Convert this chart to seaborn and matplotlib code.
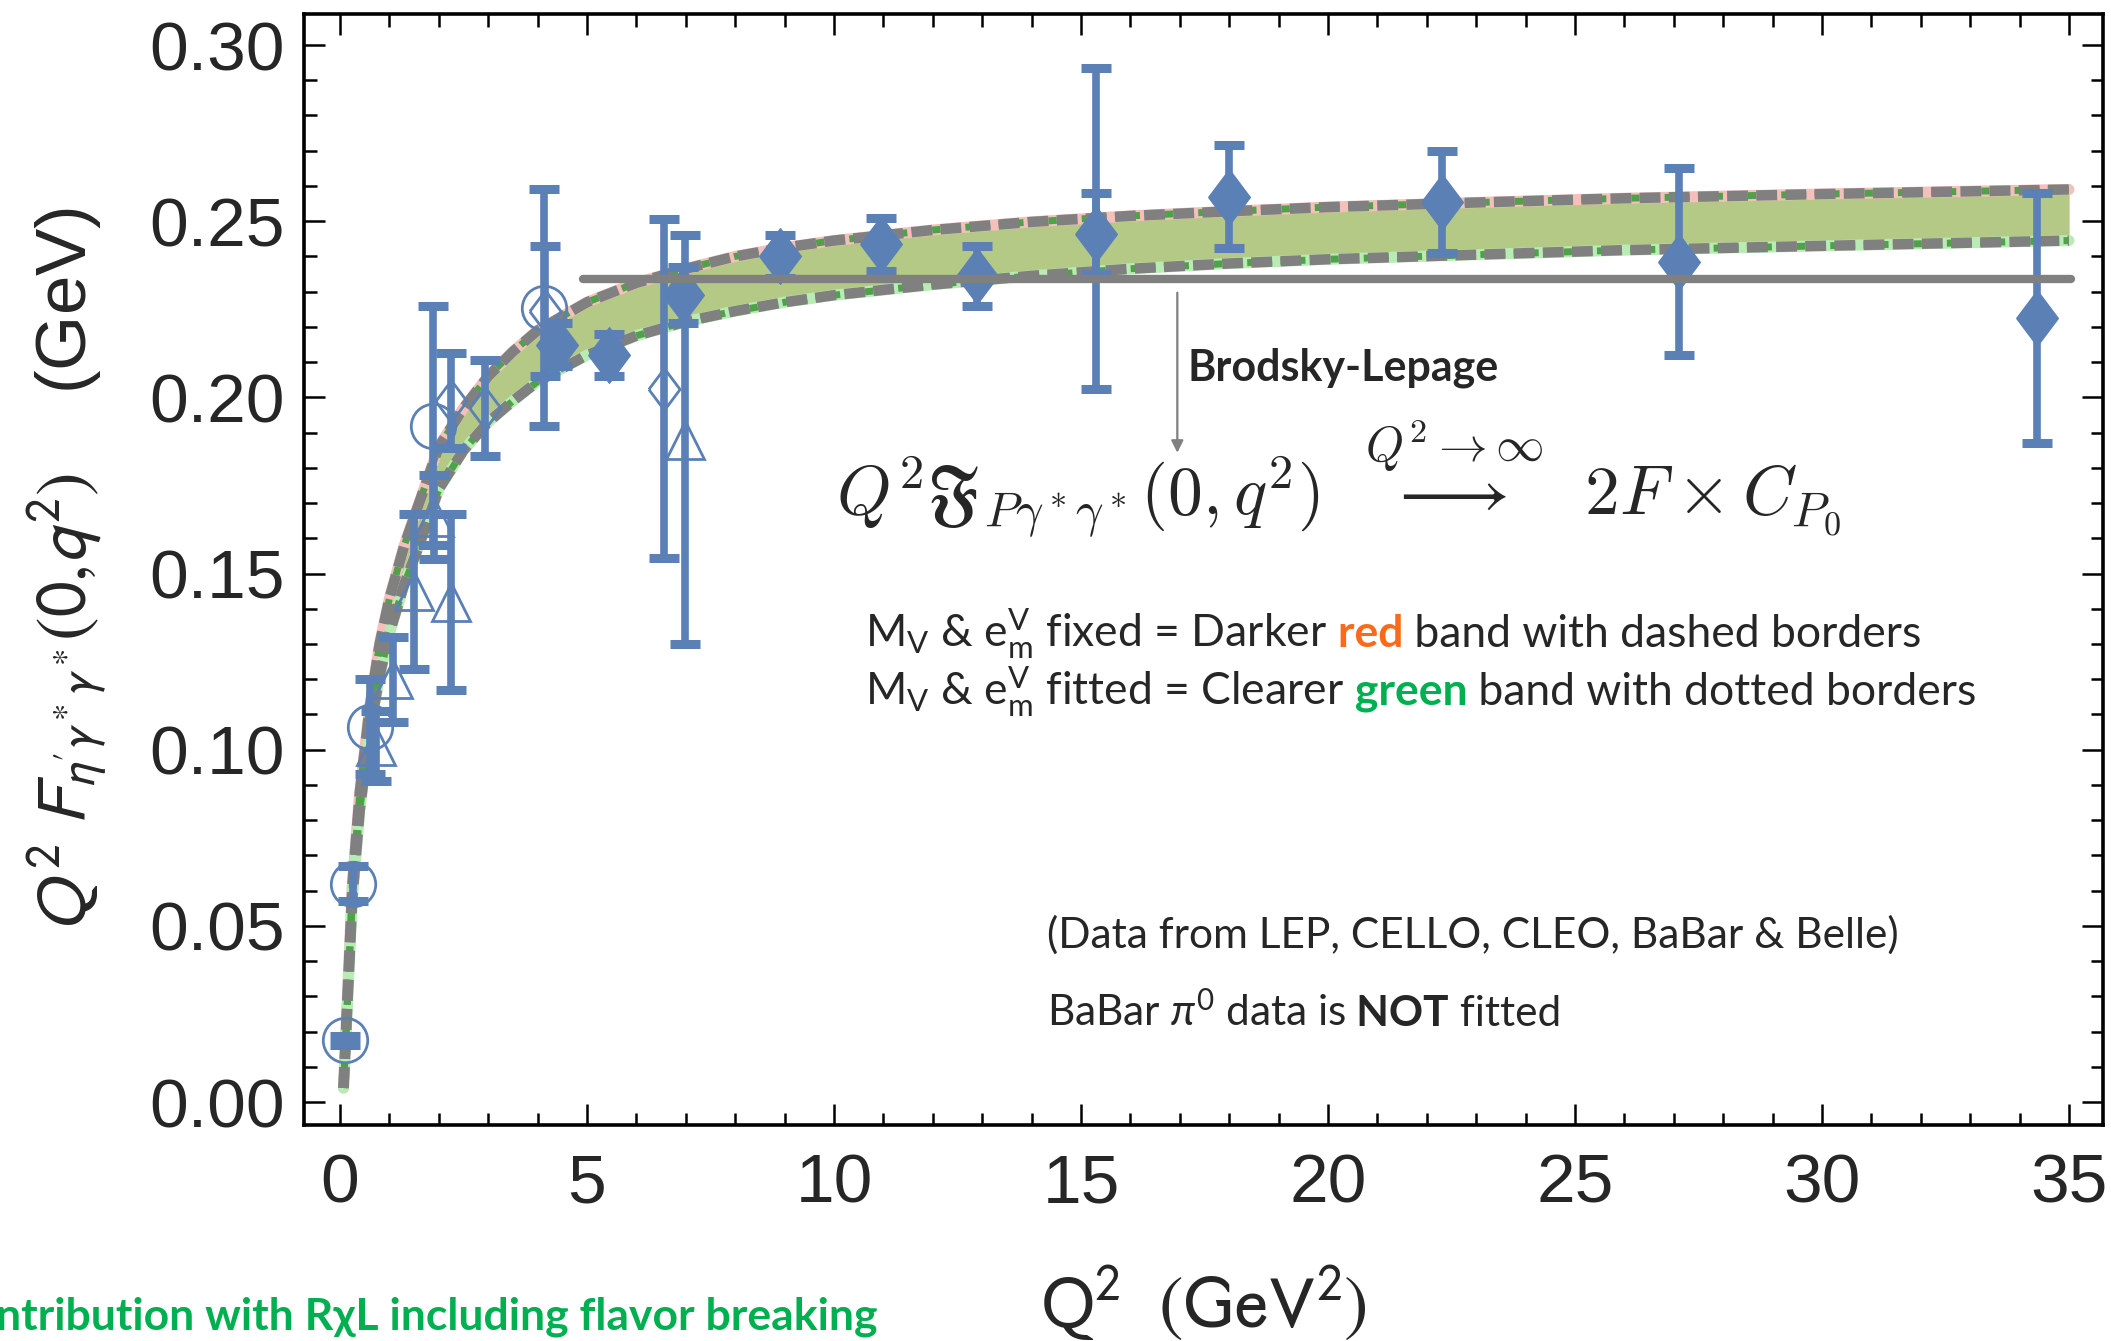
import numpy as np
import pandas as pd
import matplotlib
matplotlib.use("Agg")
import matplotlib.pyplot as plt
import matplotlib.transforms as mtransforms
from matplotlib.ticker import MultipleLocator, FormatStrFormatter
import seaborn as sns

# ---------------- data ----------------
# theory band borders (Q^2 in GeV^2, Q^2 F in GeV)
band_x = [0.07, 0.15, 0.25, 0.4, 0.6, 0.8, 1.0, 1.3, 1.6, 2.0, 2.5, 3.0, 3.5, 4.0,
          5.0, 6.0, 7.0, 8.0, 9.0, 10.0, 12.0, 14.0, 16.0, 18.0, 20.0, 23.0, 26.0, 30.0, 35.0]
band_upper = [0.004, 0.030, 0.062, 0.088, 0.112, 0.130, 0.143, 0.158, 0.170, 0.186, 0.197,
              0.206, 0.213, 0.219, 0.227, 0.2325, 0.2365, 0.240, 0.2425, 0.2445, 0.2475,
              0.2498, 0.2515, 0.2528, 0.254, 0.2553, 0.2565, 0.2577, 0.259]
band_lower = [0.004, 0.028, 0.058, 0.083, 0.105, 0.121, 0.133, 0.147, 0.158, 0.174, 0.185,
              0.193, 0.199, 0.2045, 0.212, 0.2175, 0.2215, 0.2245, 0.227, 0.229, 0.232,
              0.2345, 0.2365, 0.238, 0.2392, 0.2405, 0.2418, 0.243, 0.2445]

# Brodsky-Lepage limit
bl_x = [4.92, 35.05]
bl_y = [0.2335, 0.2335]

# filled diamonds
fd_x = [4.4, 5.45, 6.95, 8.9, 10.95, 12.9, 15.3, 18.0, 22.3, 27.1, 34.35]
fd_y = [0.215, 0.212, 0.229, 0.240, 0.2435, 0.2345, 0.2465, 0.2570, 0.2555, 0.2385, 0.2225]
fd_err = [0.006, 0.006, 0.008, 0.006, 0.0075, 0.0085, 0.0115, 0.0145, 0.0145, 0.0265, 0.0355]
# additional large error bar at Q^2 ~ 15.3
fd2_x = [15.3]
fd2_y = [0.248]
fd2_err = [0.0455]

# open circles
oc_x = [0.1, 0.27, 0.6, 1.88, 4.12]
oc_y = [0.0175, 0.062, 0.1065, 0.192, 0.2255]
oc_err = [0.0012, 0.005, 0.0135, 0.034, 0.0335]

# open triangles
ot_x = [0.72, 1.08, 1.5, 1.9, 2.25, 6.99]
ot_y = [0.101, 0.120, 0.145, 0.166, 0.142, 0.188]
ot_err = [0.010, 0.012, 0.022, 0.012, 0.025, 0.058]

# open diamonds
od_x = [2.24, 2.94, 4.15, 6.56]
od_y = [0.199, 0.197, 0.2245, 0.2025]
od_err = [0.0135, 0.0135, 0.0185, 0.048]

x_ticks = [0, 5, 10, 15, 20, 25, 30, 35]
y_ticks = [0.00, 0.05, 0.10, 0.15, 0.20, 0.25, 0.30]

# ---------------- style ----------------
sns.set_theme(style="ticks")
plt.rcParams["font.family"] = ["Liberation Sans", "DejaVu Sans"]
plt.rcParams["mathtext.fontset"] = "custom"
plt.rcParams["mathtext.rm"] = "Lato"
plt.rcParams["mathtext.it"] = "Lato:italic"
plt.rcParams["mathtext.bf"] = "Lato:bold"

BLUE = "#5b80b6"
GRAY = "#808080"
GREEN_FILL = "#b3c985"
RED_FILL = "#e9b3a3"
CAL = ["Lato", "DejaVu Sans"]

W, H = 2111, 1341
fig = plt.figure(figsize=(W / 100, H / 100), dpi=100)
L, R, T, B = 304, 2103, 14, 1125
ax = fig.add_axes([L / W, 1 - B / H, (R - L) / W, (B - T) / H])

# bands
band = pd.DataFrame({"x": band_x, "up": band_upper, "lo": band_lower})
ax.fill_between(band["x"], band["lo"], band["up"], color=RED_FILL, lw=0, zorder=1)
ax.fill_between(band["x"], band["lo"], band["up"], color=GREEN_FILL, lw=0, zorder=1.2)
sns.lineplot(data=band, x="x", y="up", ax=ax, color="#f5c0bb", lw=8, zorder=1.5, sort=False)
sns.lineplot(data=band, x="x", y="lo", ax=ax, color="#b8ecb4", lw=8, zorder=1.5, sort=False)
for col in ["up", "lo"]:
    sns.lineplot(data=band, x="x", y=col, ax=ax, color="#4fa24a", lw=5,
                 linestyle=(0, (1.2, 1.2)), zorder=2, sort=False)
    sns.lineplot(data=band, x="x", y=col, ax=ax, color=GRAY, lw=7.5,
                 linestyle=(0, (2.0, 0.8)), zorder=3, sort=False)

# error bars
eb = dict(fmt="none", ecolor=BLUE, elinewidth=5.5, capsize=10.5, capthick=6.5, zorder=4)
ax.errorbar(fd_x, fd_y, yerr=fd_err, **eb)
ax.errorbar(fd2_x, fd2_y, yerr=fd2_err, **eb)
ax.errorbar(oc_x, oc_y, yerr=oc_err, **eb)
ax.errorbar(ot_x, ot_y, yerr=ot_err, **eb)
ax.errorbar(od_x, od_y, yerr=od_err, **eb)

diamond = [(-0.75, 0), (0, 1), (0.75, 0), (0, -1), (-0.75, 0)]
ax.plot(fd_x, fd_y, ls="none", marker=diamond, ms=40, mfc=BLUE, mec=BLUE, zorder=5)
ax.plot(oc_x, oc_y, ls="none", marker="o", ms=32, mfc="none", mec=BLUE, mew=2, zorder=5)
ax.plot(ot_x, ot_y, ls="none", marker="^", ms=28, mfc="none", mec=BLUE, mew=2, zorder=5)
ax.plot(od_x, od_y, ls="none", marker=diamond, ms=30, mfc="none", mec=BLUE, mew=2, zorder=5)

# Brodsky-Lepage line
sns.lineplot(x=bl_x, y=bl_y, ax=ax, color=GRAY, lw=6, zorder=6)
ax.annotate("", xy=(16.95, 0.1835), xytext=(16.95, 0.2305),
            arrowprops=dict(arrowstyle="-|>", color=GRAY, lw=1.6, mutation_scale=18), zorder=6)
ax.text(17.15, 0.2085, "Brodsky-Lepage", fontsize=31, fontweight="bold",
        family=CAL, va="center", ha="left", zorder=7)

# axes
ax.set_xlim(-0.73, 35.69)
ax.set_ylim(-0.0065, 0.3088)
ax.set_xticks(x_ticks)
ax.set_yticks(y_ticks)
ax.yaxis.set_major_formatter(FormatStrFormatter("%.2f"))
ax.xaxis.set_minor_locator(MultipleLocator(1))
ax.yaxis.set_minor_locator(MultipleLocator(0.01))
ax.tick_params(which="both", direction="in", top=True, right=True, width=1.8, color="black")
ax.tick_params(which="major", length=15)
ax.tick_params(which="minor", length=9)
ax.tick_params(axis="x", which="major", labelsize=50, pad=20)
ax.tick_params(axis="y", which="major", labelsize=50, pad=14)
for sp in ax.spines.values():
    sp.set_linewidth(2.6)
    sp.set_color("black")
ax.set_xlabel("")
ax.set_ylabel("")
ax.set_facecolor("white")

# axis labels
ax.text(0.5, (B - 1303) / (B - T), r"$\mathrm{Q^2\ \ (GeV^2)}$", transform=ax.transAxes,
        fontsize=53, ha="center", va="center", math_fontfamily="stixsans")
ax.text((67 - L) / (R - L), 0.5, r"$Q^2\ F_{\eta'\gamma^*\gamma^*}(0{,}q^2)$    (GeV)",
        transform=ax.transAxes, rotation=90, fontsize=51, ha="center", va="center",
        math_fontfamily="stixsans")

# formula
formula = ax.text(10.05, 0.1765,
                  r"$Q^2\mathfrak{F}_{P\gamma^*\gamma^*}(0,q^2)\ \ \overset{Q^2\to\infty}{\longrightarrow}\ \ 2F\times C_{P_0}$",
                  fontsize=50, math_fontfamily="cm", va="center", ha="left", zorder=7)
renderer = fig.canvas.get_renderer()
try:
    formula.get_window_extent(renderer)
except Exception:
    formula.set_text(r"$Q^2\mathcal{F}_{P\gamma^*\gamma^*}(0,q^2)\ \ \overset{Q^2\to\infty}{\longrightarrow}\ \ 2F\times C_{P_0}$")


def rainbow(x, y, pieces, size):
    offset = 0.0
    for s, kw in pieces:
        tr = mtransforms.offset_copy(ax.transData, fig=fig, x=offset, y=0, units="dots")
        t = ax.text(x, y, s, transform=tr, fontsize=size, family=CAL, va="baseline",
                    ha="left", zorder=7, **kw)
        offset += t.get_window_extent(renderer).width


rainbow(10.62, 0.1292, [
    (r"$\mathregular{M_V}$ & $\mathregular{e^V_m}$ fixed = Darker", {}),
    (" red", dict(color="#f96b1b", fontweight="bold")),
    (" band with dashed borders", {}),
], 32)
rainbow(10.62, 0.1127, [
    (r"$\mathregular{M_V}$ & $\mathregular{e^V_m}$ fitted = Clearer", {}),
    (" green", dict(color="#00b050", fontweight="bold")),
    (" band with dotted borders", {}),
], 32)
rainbow(14.32, 0.0438, [
    ("(Data from LEP, CELLO, CLEO, BaBar & Belle)", {}),
], 30.5)
rainbow(14.32, 0.0216, [
    (r"BaBar $\pi^0$ data is", {}),
    (" NOT", dict(fontweight="bold")),
    (" fitted", {}),
], 30.5)

# slide caption fragment at bottom-left (as visible in the reference)
fig.text(878 / W, 1 - 1317 / H, "ntribution with R\u03c7L including flavor breaking",
         fontsize=32, fontweight="bold", color="#00b050", family=CAL,
         ha="right", va="center")

fig.savefig("out.png", dpi=100, facecolor="white")
